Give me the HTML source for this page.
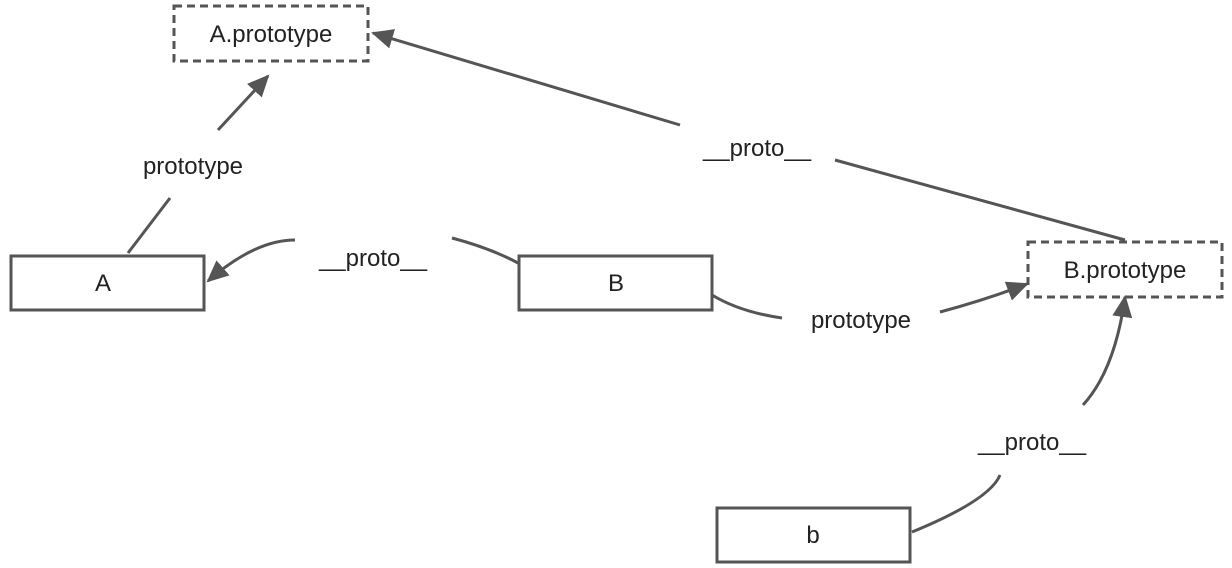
<!DOCTYPE html>
<html><head><meta charset="utf-8"><style>
html,body{margin:0;padding:0;background:#fff;width:1232px;height:568px;overflow:hidden}
text{font-family:"Liberation Sans",sans-serif;font-size:24px;fill:#222}
</style></head><body>
<svg width="1232" height="568" viewBox="0 0 1232 568" xmlns="http://www.w3.org/2000/svg">
<defs><marker id="ar" markerWidth="10" markerHeight="10" refX="8" refY="5" orient="auto" markerUnits="userSpaceOnUse" viewBox="0 0 10 10"><path d="M0,0 L10,5 L0,10 z" fill="#555"/></marker>
<marker id="a" markerWidth="22" markerHeight="20" refX="20" refY="10" orient="auto" markerUnits="userSpaceOnUse"><path d="M0,0 L22,10 L0,20 z" fill="#555"/></marker></defs>
<g fill="#fff" stroke="#555" stroke-width="3">
<rect x="174" y="6" width="194" height="55" stroke-dasharray="8,5"/>
<rect x="11" y="256" width="193" height="54"/>
<rect x="519" y="256" width="193" height="54"/>
<rect x="1028" y="242" width="194" height="55" stroke-dasharray="8,5"/>
<rect x="717" y="508" width="193" height="54"/>
</g>
<g fill="none" stroke="#555" stroke-width="3">
<path d="M128,253 L170,198"/>
<path d="M218,130 L268,76" marker-end="url(#a)"/>
<path d="M1125,240 L835,160"/>
<path d="M680,125 L373,33" marker-end="url(#a)"/>
<path d="M518,263 Q490,248 452,238"/>
<path d="M295,240 Q255,240 208,281" marker-end="url(#a)"/>
<path d="M712,295 Q740,312 782,318"/>
<path d="M940,312 Q985,300 1027,284" marker-end="url(#a)"/>
<path d="M912,532 Q990,500 1000,475"/>
<path d="M1083,405 Q1115,370 1125,297" marker-end="url(#a)"/>
</g>
<text x="193" y="174" text-anchor="middle">prototype</text>
<text x="757" y="156" text-anchor="middle">__proto__</text>
<text x="373" y="266" text-anchor="middle">__proto__</text>
<text x="861" y="328" text-anchor="middle">prototype</text>
<text x="1032" y="450" text-anchor="middle">__proto__</text>
<text x="271" y="42" text-anchor="middle">A.prototype</text>
<text x="103" y="291" text-anchor="middle">A</text>
<text x="616" y="291" text-anchor="middle">B</text>
<text x="1125" y="278" text-anchor="middle">B.prototype</text>
<text x="813" y="543" text-anchor="middle">b</text>
</svg>
</body></html>
